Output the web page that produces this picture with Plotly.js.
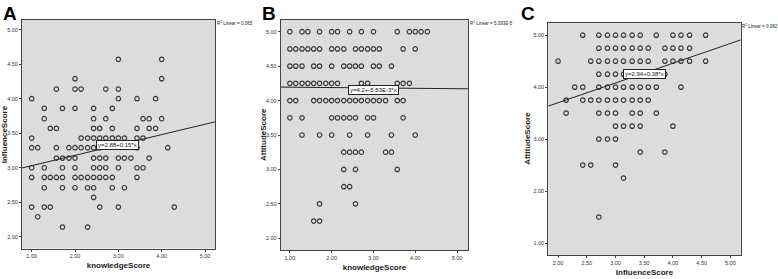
<!DOCTYPE html>
<html>
<head>
<meta charset="utf-8">
<script src="https://cdn.plot.ly/plotly-3.0.1.min.js"></script>
<style>html,body{margin:0;padding:0;background:#fff;}#chart{width:778px;height:279px;}</style>
</head>
<body>
<div id="chart"></div>
<script>
// ---------- Panel A: knowledgeScore (x) vs InfluenceScore (y) ----------
const aRowY = [4.57, 4.29, 4.14, 4.00, 3.86, 3.71, 3.57, 3.43, 3.29, 3.14, 3.00, 2.86, 2.71, 2.57, 2.43, 2.29, 2.14];
const aRowX = [
  [3.00, 4.00],
  [2.00, 4.00],
  [1.57, 2.00, 2.14, 2.71, 3.00],
  [1.00, 3.00, 3.43, 3.86],
  [1.29, 1.71, 2.00, 2.43, 2.86],
  [1.29, 2.43, 2.71, 3.57, 3.71, 4.00],
  [1.43, 1.57, 2.43, 2.57, 2.86, 3.43, 3.71, 3.86],
  [1.00, 2.14, 2.29, 2.43, 2.57, 2.71, 2.86, 3.00, 3.14, 3.43, 3.57],
  [1.00, 1.14, 1.57, 1.86, 2.00, 2.14, 2.29, 2.43, 2.57, 3.43, 4.14],
  [1.57, 1.71, 1.86, 2.00, 2.43, 2.57, 2.71, 3.00, 3.14, 3.29, 3.71],
  [1.00, 1.29, 1.71, 2.00, 2.43, 2.57, 2.71, 3.00, 3.43, 3.57],
  [1.00, 1.29, 1.43, 1.57, 1.71, 2.00, 2.14, 2.29, 2.43, 2.57, 2.71, 2.86, 3.43],
  [1.29, 1.71, 2.00, 2.29, 2.43, 2.86, 3.14],
  [2.43],
  [1.00, 1.29, 1.43, 2.57, 3.00, 4.29],
  [1.14],
  [1.71, 2.29]
];
const aFit = {intercept: 2.88, slope: 0.15};
const aFitLabel = "y=2.88+0.15*x";
const aR2Label = "R<sup>2</sup> Linear = 0.065";

// ---------- Panel B: knowledgeScore (x) vs AttitudeScore (y) ----------
const bRowY = [5.00, 4.75, 4.50, 4.25, 4.00, 3.75, 3.50, 3.25, 3.00, 2.75, 2.50, 2.25];
const bRowX = [
  [1.00, 1.29, 1.43, 1.71, 2.00, 2.14, 2.43, 2.71, 3.00, 3.57, 3.86, 4.00, 4.14, 4.29],
  [1.00, 1.14, 1.29, 1.43, 1.57, 1.71, 2.00, 2.14, 2.29, 2.57, 2.71, 2.86, 3.00, 3.14, 3.71, 4.00],
  [1.00, 1.14, 1.29, 1.57, 1.71, 2.00, 2.29, 2.43, 2.57, 2.71, 3.00, 3.14, 3.43],
  [1.00, 1.14, 1.29, 1.43, 1.57, 1.71, 1.86, 2.00, 2.14, 2.71, 2.86, 3.57, 3.71, 3.86],
  [1.00, 1.14, 1.57, 1.71, 1.86, 2.00, 2.14, 2.29, 2.43, 2.57, 2.71, 2.86, 3.00, 3.14, 3.29, 3.57, 3.71],
  [1.00, 1.29, 2.00, 2.14, 2.29, 2.43, 2.57, 2.86, 3.00, 3.71],
  [1.29, 1.71, 2.00, 2.43, 2.86, 3.43, 4.00],
  [2.29, 2.43, 2.57, 2.71, 3.29, 3.43],
  [2.29, 2.57, 3.57],
  [2.29, 2.43],
  [1.71, 2.57],
  [1.57, 1.71]
];
const bFit = {intercept: 4.2, slope: -0.00553};
const bFitLabel = "y=4.2+-5.53E-3*x";
const bR2Label = "R<sup>2</sup> Linear = 5.093E-5";

// ---------- Panel C: InfluenceScore (x) vs AttitudeScore (y) ----------
const cRowY = [5.00, 4.75, 4.50, 4.25, 4.00, 3.75, 3.50, 3.25, 3.00, 2.75, 2.50, 2.25, 1.50];
const cRowX = [
  [2.43, 2.71, 2.86, 3.00, 3.14, 3.29, 3.43, 3.71, 4.00, 4.14, 4.29, 4.57],
  [2.71, 2.86, 3.00, 3.14, 3.29, 3.43, 3.57, 3.86, 4.00, 4.14, 4.29],
  [2.00, 2.57, 2.71, 2.86, 3.00, 3.14, 3.29, 3.43, 3.57, 3.86, 4.00, 4.14, 4.29, 4.57],
  [2.71, 2.86, 3.00, 3.14, 3.86],
  [2.29, 2.43, 2.71, 2.86, 3.00, 3.14, 3.29, 3.43, 3.57, 3.71, 4.14],
  [2.14, 2.43, 2.57, 2.71, 2.86, 3.00, 3.14, 3.29, 3.43, 3.57],
  [2.14, 2.71, 2.86, 3.00, 3.29, 3.43, 3.71],
  [3.00, 3.14, 3.29, 3.43, 4.00],
  [2.71, 2.86, 3.00],
  [3.43, 3.86],
  [2.43, 2.57, 3.00],
  [3.14],
  [2.71]
];
const cFit = {intercept: 2.94, slope: 0.38};
const cFitLabel = "y=2.94+0.38*x";
const cR2Label = "R<sup>2</sup> Linear = 0.082";

// ---------- styling / layout ----------
const W = 778, H = 279;
const px = v => v / W;
const py = v => 1 - v / H;

function flatten(rowY, rowX) {
  const xs = [], ys = [];
  rowX.forEach((row, i) => row.forEach(x => { xs.push(x); ys.push(rowY[i]); }));
  return {xs, ys};
}

const panels = [
  {rowY: aRowY, rowX: aRowX, fit: aFit, fitLabel: aFitLabel, r2: aR2Label,
   xr: [0.777, 5.23], yr: [1.83, 5.14], dx: [22, 215], dy: [20, 248.5],
   xt: "knowledgeScore", yt: "InfluenceScore", ytX: 4,
   xticks: [1, 2, 3, 4, 5], yticks: [2, 2.5, 3, 3.5, 4, 4.5, 5],
   box: [2.99, 3.33], letter: "A", letterX: 1},
  {rowY: bRowY, rowX: bRowX, fit: bFit, fitLabel: bFitLabel, r2: bR2Label,
   xr: [0.78, 5.27], yr: [1.83, 5.17], dx: [280.7, 468.3], dy: [20, 250],
   xt: "knowledgeScore", yt: "AttitudeScore", ytX: 263,
   xticks: [1, 2, 3, 4, 5], yticks: [2, 2.5, 3, 3.5, 4, 4.5, 5],
   box: [3.0, 4.15], letter: "B", letterX: 260},
  {rowY: cRowY, rowX: cRowX, fit: cFit, fitLabel: cFitLabel, r2: cR2Label,
   xr: [1.83, 5.18], yr: [0.77, 5.24], dx: [548.3, 740.7], dy: [22.7, 255],
   xt: "InfluenceScore", yt: "AttitudeScore", ytX: 528,
   xticks: [2, 2.5, 3, 3.5, 4, 4.5, 5], yticks: [1, 2, 3, 4, 5],
   box: [3.51, 4.26], letter: "C", letterX: 519}
];

const narrow = "Liberation Sans Narrow, Arial Narrow, Liberation Sans, sans-serif";
const tickFont = {family: narrow, size: 5.5, color: "#333"};
const titleFont = {family: narrow, size: 8, color: "#222", weight: "bold"};

const data = [];
const layout = {
  width: W, height: H,
  margin: {l: 0, r: 0, t: 0, b: 0},
  paper_bgcolor: "#ffffff",
  showlegend: false,
  annotations: [],
  shapes: []
};

panels.forEach((p, i) => {
  const n = i + 1;
  const xa = "x" + (n === 1 ? "" : n), ya = "y" + (n === 1 ? "" : n);
  const xk = "xaxis" + (n === 1 ? "" : n), yk = "yaxis" + (n === 1 ? "" : n);
  const pts = flatten(p.rowY, p.rowX);
  data.push({
    type: "scatter", mode: "markers", x: pts.xs, y: pts.ys, xaxis: xa, yaxis: ya,
    marker: {symbol: "circle-open", size: 4.5, color: "#3a3a3a", line: {width: 1.2, color: "#3a3a3a"}},
    hoverinfo: "x+y"
  });
  data.push({
    type: "scatter", mode: "lines", xaxis: xa, yaxis: ya,
    x: [p.xr[0], p.xr[1]],
    y: [p.fit.intercept + p.fit.slope * p.xr[0], p.fit.intercept + p.fit.slope * p.xr[1]],
    line: {color: "#222", width: 1}, hoverinfo: "skip"
  });
  layout[xk] = {
    domain: [px(p.dx[0]), px(p.dx[1])], range: p.xr, anchor: ya,
    tickvals: p.xticks, ticktext: p.xticks.map(v => v.toFixed(2)),
    ticks: "outside", ticklen: 2, tickcolor: "#444", tickfont: tickFont,
    showgrid: false, zeroline: false, showline: true, linecolor: "#444", linewidth: 1, mirror: true,
    title: {text: p.xt, font: titleFont, standoff: 4}
  };
  layout[yk] = {
    domain: [py(p.dy[1]), py(p.dy[0])], range: p.yr, anchor: xa,
    tickvals: p.yticks, ticktext: p.yticks.map(v => v.toFixed(2)),
    ticks: "outside", ticklen: 2, tickcolor: "#444", tickfont: tickFont,
    showgrid: false, zeroline: false, showline: true, linecolor: "#444", linewidth: 1, mirror: true
  };
  layout.shapes.push({type: "rect", xref: xa + " domain", yref: ya + " domain", x0: 0, x1: 1, y0: 0, y1: 1,
    fillcolor: "#dcdcdc", line: {width: 0}, layer: "below"});
  // y-axis title, placed at the far left of each panel as in the reference
  layout.annotations.push({
    xref: "paper", yref: ya + " domain", x: px(p.ytX), y: 0.5, xanchor: "center", yanchor: "middle",
    text: p.yt, textangle: -90, showarrow: false, font: titleFont
  });
  layout.annotations.push({
    xref: xa, yref: ya, x: p.box[0], y: p.box[1], text: p.fitLabel, showarrow: false,
    font: {family: narrow, size: 6, color: "#111"},
    bgcolor: "#ffffff", bordercolor: "#222", borderwidth: 1, borderpad: 1
  });
  layout.annotations.push({
    xref: "paper", yref: "paper", x: px(p.dx[1] + 0.5), y: py(p.dy[0] + 3), xanchor: "left", yanchor: "middle",
    text: p.r2, showarrow: false, borderpad: 0,
    font: {family: narrow, size: 4.5, color: "#222"}
  });
  layout.annotations.push({
    xref: "paper", yref: "paper", x: px(p.letterX), y: py(1), xanchor: "left", yanchor: "top",
    text: "<b>" + p.letter + "</b>", showarrow: false,
    font: {family: "Liberation Sans, Arial, sans-serif", size: 19, color: "#000"}
  });
});

Plotly.newPlot("chart", data, layout, {staticPlot: true});
</script>
</body>
</html>
